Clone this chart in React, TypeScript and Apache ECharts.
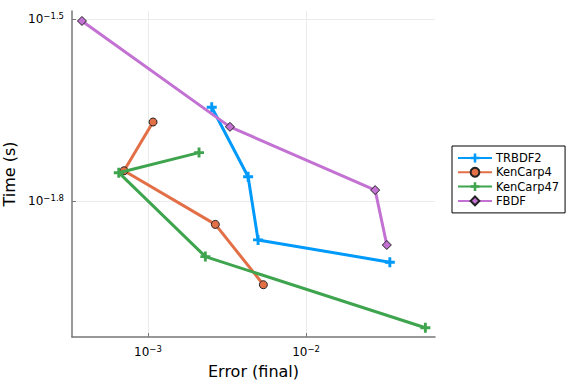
import React, { useEffect, useRef } from 'react';
import * as echarts from 'echarts';

const seriesNames = ['TRBDF2', 'KenCarp4', 'KenCarp47', 'FBDF'];
const seriesColors = ['#009AFA', '#E36F47', '#3EA44E', '#C371D2'];
const trbdf2Err = [0.00253, 0.0043, 0.00497, 0.0339];
const trbdf2Time = [0.02263, 0.01738, 0.01367, 0.01256];
const kencarp4Err = [0.001076, 0.000705, 0.002667, 0.00537];
const kencarp4Time = [0.0214, 0.01778, 0.0145, 0.01153];
const kencarp47Err = [0.002103, 0.000653, 0.002306, 0.0569];
const kencarp47Time = [0.01905, 0.01765, 0.01283, 0.00979];
const fbdfErr = [0.000382, 0.0033, 0.02737, 0.03245];
const fbdfTime = [0.03142, 0.02101, 0.01652, 0.01341];
const xTickExps = [-3, -2];
const yTickExps = [-1.8, -1.5];

const PLUS = 'path://M-1.3,-4.5 h2.6 v3.2 h3.2 v2.6 h-3.2 v3.2 h-2.6 v-3.2 h-3.2 v-2.6 h3.2 z';

const fmtExp = (v: number) => {
  const r = Math.round(v * 10) / 10;
  return '{b|10}{s|' + String(r).replace('-', '\u2212') + '}';
};

export default function App() {
  const ref = useRef<HTMLDivElement>(null);
  useEffect(() => {
    if (!ref.current) return;
    const chart = echarts.init(ref.current, undefined, { renderer: 'svg' });
    const errs = [trbdf2Err, kencarp4Err, kencarp47Err, fbdfErr];
    const times = [trbdf2Time, kencarp4Time, kencarp47Time, fbdfTime];
    const symbols = [PLUS, 'circle', PLUS, 'diamond'];
    const sizes = [10, 8, 10, 9];
    const series = seriesNames.map((name, i) => ({
      name,
      type: 'line',
      data: errs[i].map((e, j) => [Math.log10(e), Math.log10(times[i][j])]),
      symbol: symbols[i],
      symbolSize: sizes[i],
      showAllSymbol: true,
      lineStyle: { color: seriesColors[i], width: 3 },
      itemStyle: {
        color: seriesColors[i],
        borderColor: symbols[i] === PLUS ? seriesColors[i] : '#222',
        borderWidth: symbols[i] === PLUS ? 0 : 1,
      },
      z: 2 + i,
    }));
    const richLbl = {
      b: { fontSize: 12, color: '#000', fontFamily: 'DejaVu Sans' },
      s: { fontSize: 8.5, color: '#000', fontFamily: 'DejaVu Sans', padding: [0, 0, 7, 0] },
    };
    chart.setOption({
      animation: false,
      backgroundColor: '#fff',
      grid: { left: 72, top: 11, width: 363, height: 326, containLabel: false, outerBoundsMode: 'none' },
      xAxis: {
        type: 'value',
        min: -3.481,
        max: -1.184,
        name: 'Error (final)',
        nameLocation: 'middle',
        nameGap: 26,
        nameTextStyle: { fontSize: 16, color: '#000', fontFamily: 'DejaVu Sans' },
        axisLine: { show: true, lineStyle: { color: '#777', width: 1.5 } },
        axisTick: { show: true, inside: true, length: 4, customValues: xTickExps, lineStyle: { color: '#777' } },
        axisLabel: { customValues: xTickExps, formatter: fmtExp, rich: richLbl, margin: 7 },
        splitLine: { show: true, lineStyle: { color: '#ebebeb', width: 1 } },
      },
      yAxis: {
        type: 'value',
        min: -2.0245,
        max: -1.4863,
        name: 'Time (s)',
        nameLocation: 'middle',
        nameGap: 53,
        nameTextStyle: { fontSize: 16, color: '#000', fontFamily: 'DejaVu Sans' },
        axisLine: { show: true, lineStyle: { color: '#777', width: 1.5 } },
        axisTick: { show: true, inside: true, length: 4, customValues: yTickExps, lineStyle: { color: '#777' } },
        axisLabel: { customValues: yTickExps, formatter: fmtExp, rich: richLbl, margin: 8 },
        splitLine: { show: true, lineStyle: { color: '#ebebeb', width: 1 } },
      },
      legend: {
        orient: 'vertical',
        left: 452,
        top: 146,
        backgroundColor: '#fff',
        borderColor: '#000',
        borderWidth: 1,
        borderRadius: 0,
        padding: [6, 6, 6, 5],
        itemWidth: 34,
        itemHeight: 11,
        itemGap: 2.3,
        textStyle: { fontSize: 11.5, color: '#000', fontFamily: 'DejaVu Sans', padding: [0, 0, 0, -1] },
        data: seriesNames,
      },
      series,
    });
    return () => chart.dispose();
  }, []);
  return <div ref={ref} style={{ width: 576, height: 384, position: 'absolute', left: 0, top: 0 }} />;
}
